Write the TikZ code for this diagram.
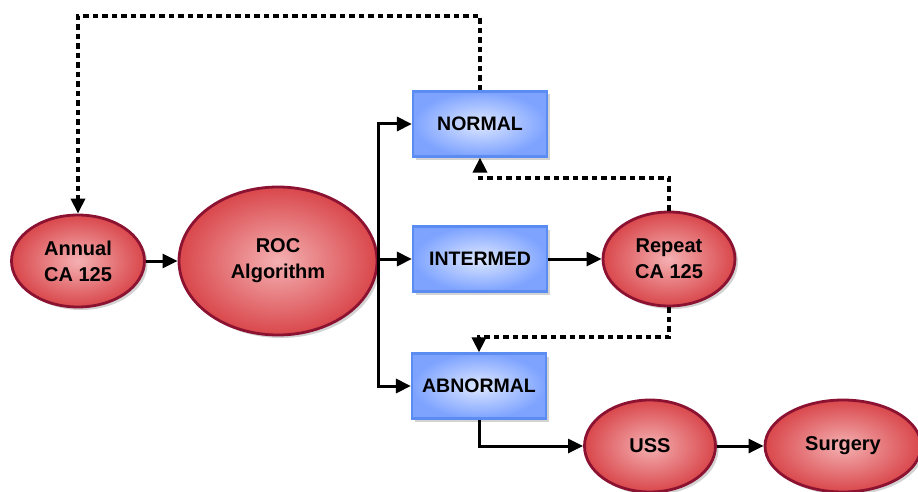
\documentclass[tikz,border=0pt]{standalone}
\usepackage{fontspec}
\setmainfont{Liberation Sans}
\usetikzlibrary{shapes.geometric,arrows.meta,shadows}
\definecolor{ovalred}{HTML}{D9474B}
\definecolor{ovalpink}{HTML}{F4B0B2}
\definecolor{ovalrim}{HTML}{8C1232}
\definecolor{boxblue}{HTML}{7EA3FF}
\definecolor{boxpale}{HTML}{DDE7FF}
\definecolor{boxrim}{HTML}{5B8CF2}

\begin{document}
\begin{tikzpicture}[x=1pt,y=-1pt,
	oval/.style={ellipse,draw=ovalrim,line width=2.8pt,inner color=ovalpink,outer color=ovalred,
		drop shadow={opacity=0.35,shadow xshift=3pt,shadow yshift=-3pt},
		font=\bfseries\fontsize{20}{26}\selectfont,align=center,inner sep=0pt},
	stage/.style={rectangle,draw=boxrim,line width=2.2pt,inner color=boxpale,outer color=boxblue,
		drop shadow={opacity=0.35,shadow xshift=3pt,shadow yshift=-3pt},
		font=\bfseries\fontsize{19.5}{24}\selectfont,minimum width=134pt,minimum height=65pt},
	link/.style={line width=3pt,-{Triangle[length=15pt,width=14pt]}},
	recall/.style={line width=3.3pt,dash pattern=on 5.5pt off 4pt,-{Triangle[length=15pt,width=14pt]}}]
	\useasboundingbox (0,0) rectangle (918,492);
	
	\node[oval,minimum width=133pt,minimum height=92pt] (annual) at (78,261) {Annual\\CA 125};
	\node[oval,minimum width=198pt,minimum height=148pt] (roc) at (278,261) {ROC\\Algorithm};
	\node[stage] (normal) at (480,124) {NORMAL};
	\node[stage] (intermed) at (480,259) {INTERMED};
	\node[stage] (abnormal) at (479,386) {ABNORMAL};
	\node[oval,minimum width=132pt,minimum height=94pt] (repeat) at (669,259) {Repeat\\CA 125};
	\node[oval,minimum width=131pt,minimum height=92pt] (uss) at (650,446) {USS};
	\node[oval,minimum width=156pt,minimum height=92pt] (surgery) at (843,446) {Surgery};
	
	\coordinate (topline) at (0,16);
	\coordinate (upline) at (0,178);
	\coordinate (downline) at (0,337);
	
	\draw[link] (annual) -- (roc);
	\draw[link] (roc.east) |- (normal.west);
	\draw[link] (roc.east |- intermed) -- (intermed.west);
	\draw[link] (roc.east) |- (abnormal.west);
	\draw[link] (intermed) -- (repeat);
	\draw[link] (abnormal.south) |- (uss.west);
	\draw[link] (uss) -- (surgery);
	
	\draw[recall] (normal.north) -- (normal.north |- topline) -| (annual.north);
	\draw[recall] (repeat.north) -- (repeat.north |- upline) -| (normal.south);
	\draw[recall] (repeat.south) -- (repeat.south |- downline) -| (abnormal.north);
\end{tikzpicture}
\end{document}
